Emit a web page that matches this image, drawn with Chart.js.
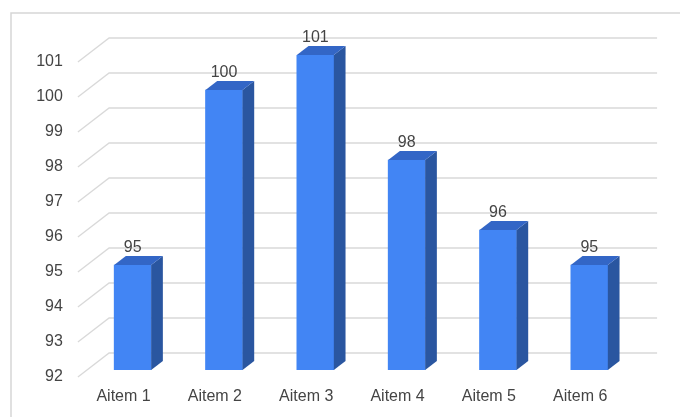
<!DOCTYPE html>
<html>
<head>
<meta charset="utf-8">
<script src="https://cdn.jsdelivr.net/npm/chart.js@4.4.1/dist/chart.umd.min.js"></script>
<style>
  html, body { margin: 0; padding: 0; background: #fff; }
  #wrap { width: 680px; height: 417px; }
</style>
</head>
<body>
<div id="wrap"><canvas id="chart" width="680" height="417"></canvas></div>
<script>
// Data
const categories = ['Aitem 1', 'Aitem 2', 'Aitem 3', 'Aitem 4', 'Aitem 5', 'Aitem 6'];
const values = [95, 100, 101, 98, 96, 95];
const yTicks = [92, 93, 94, 95, 96, 97, 98, 99, 100, 101];

// 3D look: depth offsets measured in vertical pixels, slant 1.3 px right per px up
const SLANT = 1.3;
const FRONT = 7;   // grid front edge below the bar plane
const BACK = 17;   // back wall above the bar plane
const DEPTH = 9;   // bar depth
const textColor = '#444';
const gridColor = '#d9d9d9';
const font = '16px "Liberation Sans", Arial, sans-serif';

const box3d = {
    id: 'box3d',
    beforeDraw(chart) {
        const ctx = chart.ctx;
        ctx.save();
        ctx.fillStyle = '#fff';
        ctx.fillRect(0, 0, chart.width, chart.height);
        // outer frame (top + left visible)
        ctx.strokeStyle = '#d6d6d6';
        ctx.lineWidth = 1.5;
        ctx.beginPath();
        ctx.moveTo(11, chart.height);
        ctx.lineTo(11, 13);
        ctx.lineTo(chart.width, 13);
        ctx.stroke();
        ctx.restore();
    },
    beforeDatasetsDraw(chart) {
        const ctx = chart.ctx;
        const area = chart.chartArea;
        const y = chart.scales.y;
        ctx.save();
        ctx.strokeStyle = gridColor;
        ctx.lineWidth = 1.3;
        ctx.font = font;
        ctx.fillStyle = textColor;
        ctx.textAlign = 'right';
        ctx.textBaseline = 'middle';
        yTicks.forEach(v => {
            const py = y.getPixelForValue(v);
            const fx = area.left - FRONT * SLANT, fy = py + FRONT;
            const bx = area.left + BACK * SLANT, by = py - BACK;
            ctx.beginPath();
            ctx.moveTo(fx, fy);
            ctx.lineTo(bx, by);
            ctx.lineTo(area.right + BACK * SLANT, by);
            ctx.stroke();
            ctx.fillText(String(v), fx - 15, fy);
        });
        // category labels sit on the front edge
        const meta = chart.getDatasetMeta(0);
        ctx.textAlign = 'center';
        meta.data.forEach((bar, i) => {
            ctx.fillText(categories[i], bar.x - FRONT * SLANT, area.bottom + FRONT + 20);
        });
        ctx.restore();
    },
    afterDatasetsDraw(chart) {
        const ctx = chart.ctx;
        const area = chart.chartArea;
        const meta = chart.getDatasetMeta(0);
        const dx = DEPTH * SLANT, dy = DEPTH;
        ctx.save();
        meta.data.forEach((bar, i) => {
            const l = bar.x - bar.width / 2, r = bar.x + bar.width / 2;
            const top = bar.y, bottom = area.bottom;
            // side face
            ctx.fillStyle = '#2a56a0';
            ctx.beginPath();
            ctx.moveTo(r, top);
            ctx.lineTo(r + dx, top - dy);
            ctx.lineTo(r + dx, bottom - dy);
            ctx.lineTo(r, bottom);
            ctx.closePath();
            ctx.fill();
            // top face
            ctx.fillStyle = '#3366c6';
            ctx.beginPath();
            ctx.moveTo(l, top);
            ctx.lineTo(l + dx, top - dy);
            ctx.lineTo(r + dx, top - dy);
            ctx.lineTo(r, top);
            ctx.closePath();
            ctx.fill();
            // value label
            ctx.fillStyle = textColor;
            ctx.font = font;
            ctx.textAlign = 'center';
            ctx.textBaseline = 'alphabetic';
            ctx.fillText(String(values[i]), bar.x, top - dy - 4);
        });
        ctx.restore();
    }
};

new Chart(document.getElementById('chart'), {
    type: 'bar',
    data: {
        labels: categories,
        datasets: [{
            data: values,
            backgroundColor: '#4285f4',
            borderWidth: 0,
            barThickness: 37
        }]
    },
    options: {
        responsive: false,
        animation: false,
        layout: {
            padding: { left: 87, right: 45, top: 55, bottom: 47 }
        },
        plugins: {
            legend: { display: false },
            tooltip: { enabled: false }
        },
        scales: {
            x: { display: false, offset: true },
            y: { display: false, min: 92, max: 101 }
        }
    },
    plugins: [box3d]
});
</script>
</body>
</html>
